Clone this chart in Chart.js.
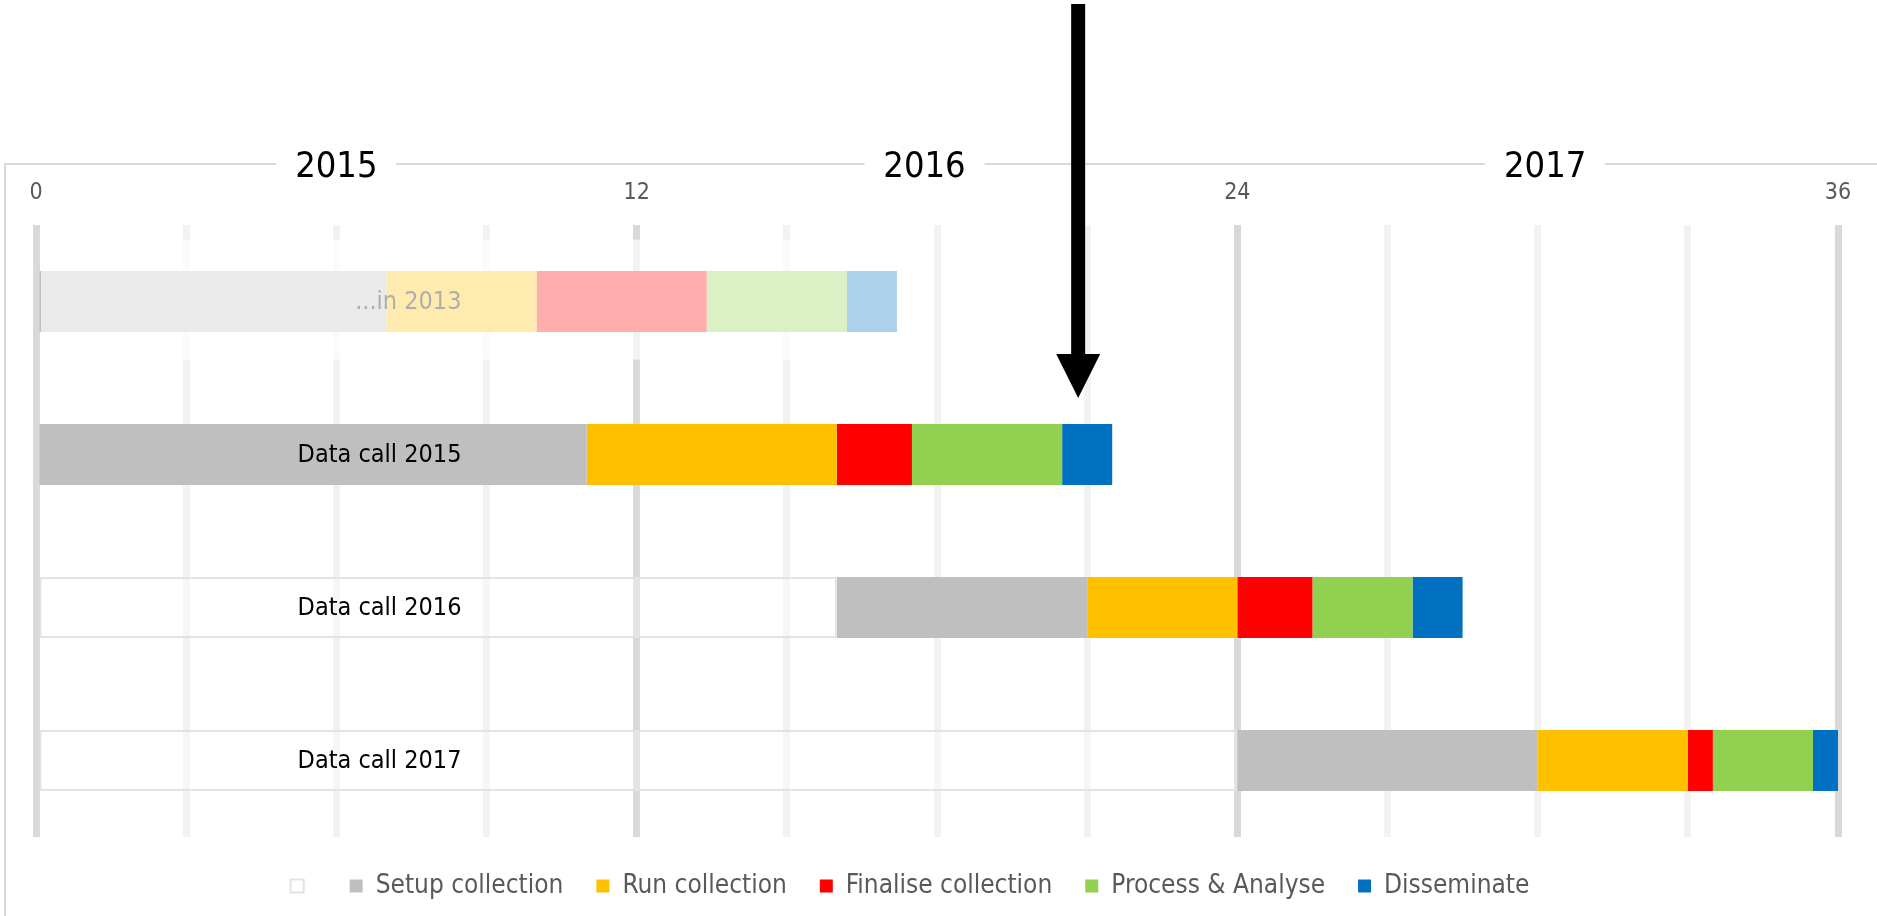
<!DOCTYPE html>
<html lang="en">
<head>
<meta charset="utf-8">
<title>Data call timeline</title>
<script src="https://cdn.jsdelivr.net/npm/chart.js@4.4.1/dist/chart.umd.min.js"></script>
<style>
    html, body { margin: 0; padding: 0; background: #fff; }
    #wrap { position: relative; width: 1877px; height: 916px; }
</style>
</head>
<body>
<div id="wrap"><canvas id="timeline-chart"></canvas></div>
<script>
// Rows, top to bottom
const categories = ['...in 2013', 'Data call 2015', 'Data call 2016', 'Data call 2017'];

// Months (from January 2015) spent in each phase
const offsetMonths = [0, 0, 16, 24];
const setupMonths = [7, 11, 5, 6];
const runMonths = [3, 5, 3, 3];
const finaliseMonths = [3.4, 1.5, 1.5, 0.5];
const processMonths = [2.8, 3, 2, 2];
const disseminateMonths = [1, 1, 1, 0.5];

const phaseNames = ['Setup collection', 'Run collection', 'Finalise collection', 'Process & Analyse', 'Disseminate'];
const phaseColors = ['#bfbfbf', '#ffc000', '#ff0000', '#92d050', '#0070c0'];

// Axis
const labelledMonths = [0, 12, 24, 36];
const years = ['2015', '2016', '2017'];

const FONT = '"DejaVu Sans Condensed", "DejaVu Sans", sans-serif';

/**
 * Extra drawing: row names, faded 2013 row, frame, year headings and arrow
 */
const decorations = {
    id: 'decorations',
    afterLayout(chart) {
        // nudge legend to where it sits in the original
        chart.legend.left -= 27;
        chart.legend.right -= 27;
        chart.legend.top += 3;
        chart.legend.bottom += 3;
    },
    afterDatasetsDraw(chart) {
        const ctx = chart.ctx;
        const x = chart.scales.x;
        const y = chart.scales.y;
        ctx.save();

        // row names, right aligned inside the plot
        ctx.font = '25px ' + FONT;
        ctx.fillStyle = '#000';
        ctx.textAlign = 'right';
        ctx.textBaseline = 'middle';
        categories.forEach((name, i) => {
            ctx.fillText(name, x.getPixelForValue(8.5), y.getPixelForValue(i) + 1);
        });

        // the 2013 row is washed out
        const yc = y.getPixelForValue(0);
        const x0 = x.getPixelForValue(0) + 5;
        ctx.fillStyle = 'rgba(255, 255, 255, 0.68)';
        ctx.fillRect(x0, yc - 62, x.getPixelForValue(17.5) - x0, 120);
        ctx.restore();
    },
    afterDraw(chart) {
        const ctx = chart.ctx;
        const x = chart.scales.x;
        ctx.save();

        // frame
        ctx.strokeStyle = '#d9d9d9';
        ctx.lineWidth = 2;
        ctx.beginPath();
        ctx.moveTo(5, chart.height);
        ctx.lineTo(5, 164);
        ctx.lineTo(chart.width, 164);
        ctx.stroke();

        // year headings sitting on the frame line
        const yearAt = [6, 17.75, 30.15];
        ctx.font = '36px ' + FONT;
        ctx.textAlign = 'center';
        ctx.textBaseline = 'alphabetic';
        years.forEach((year, i) => {
            const cx = x.getPixelForValue(yearAt[i]);
            ctx.fillStyle = '#fff';
            ctx.fillRect(cx - 60, 146, 120, 36);
            ctx.fillStyle = '#000';
            ctx.fillText(year, cx, 177);
        });

        // arrow pointing at the end of the 2015 data call
        const ax = x.getPixelForValue(20.82);
        ctx.fillStyle = '#000';
        ctx.fillRect(ax - 7, 4, 14, 352);
        ctx.beginPath();
        ctx.moveTo(ax - 22, 354);
        ctx.lineTo(ax + 22, 354);
        ctx.lineTo(ax, 398);
        ctx.closePath();
        ctx.fill();
        ctx.restore();
    }
};

document.addEventListener('DOMContentLoaded', function() {
    const phaseData = [setupMonths, runMonths, finaliseMonths, processMonths, disseminateMonths];

    const datasets = [{
        label: '',
        data: offsetMonths,
        backgroundColor: 'rgba(255, 255, 255, 0.3)',
        borderColor: '#e3e3e3',
        borderWidth: 2,
        borderSkipped: false
    }];
    phaseNames.forEach((name, i) => {
        datasets.push({
            label: name,
            data: phaseData[i],
            backgroundColor: phaseColors[i],
            borderWidth: 0
        });
    });

    new Chart(document.getElementById('timeline-chart'), {
        type: 'bar',
        data: {
            labels: categories,
            datasets: datasets
        },
        options: {
            indexAxis: 'y',
            responsive: true,
            maintainAspectRatio: false,
            animation: false,
            barPercentage: 0.4,
            categoryPercentage: 1.0,
            layout: {
                padding: { left: 36, right: 39, top: 0, bottom: 10 }
            },
            plugins: {
                tooltip: { enabled: false },
                legend: {
                    position: 'bottom',
                    labels: {
                        boxWidth: 13,
                        boxHeight: 13,
                        padding: 33,
                        color: '#595959',
                        font: { family: FONT, size: 26 }
                    }
                }
            },
            scales: {
                x: {
                    position: 'top',
                    stacked: true,
                    min: 0,
                    max: 36,
                    afterFit: function(scale) {
                        scale.height = 225;
                    },
                    border: { display: false },
                    grid: {
                        drawTicks: false,
                        lineWidth: 7,
                        color: ctx => (ctx.tick && ctx.tick.value % 12 === 0) ? '#d9d9d9' : '#f2f2f2'
                    },
                    ticks: {
                        stepSize: 3,
                        autoSkip: false,
                        maxRotation: 0,
                        padding: 18,
                        color: '#595959',
                        font: { family: FONT, size: 23 },
                        callback: value => labelledMonths.includes(value) ? value : ''
                    }
                },
                y: {
                    stacked: true,
                    display: false
                }
            }
        },
        plugins: [decorations]
    });
});
</script>
</body>
</html>
